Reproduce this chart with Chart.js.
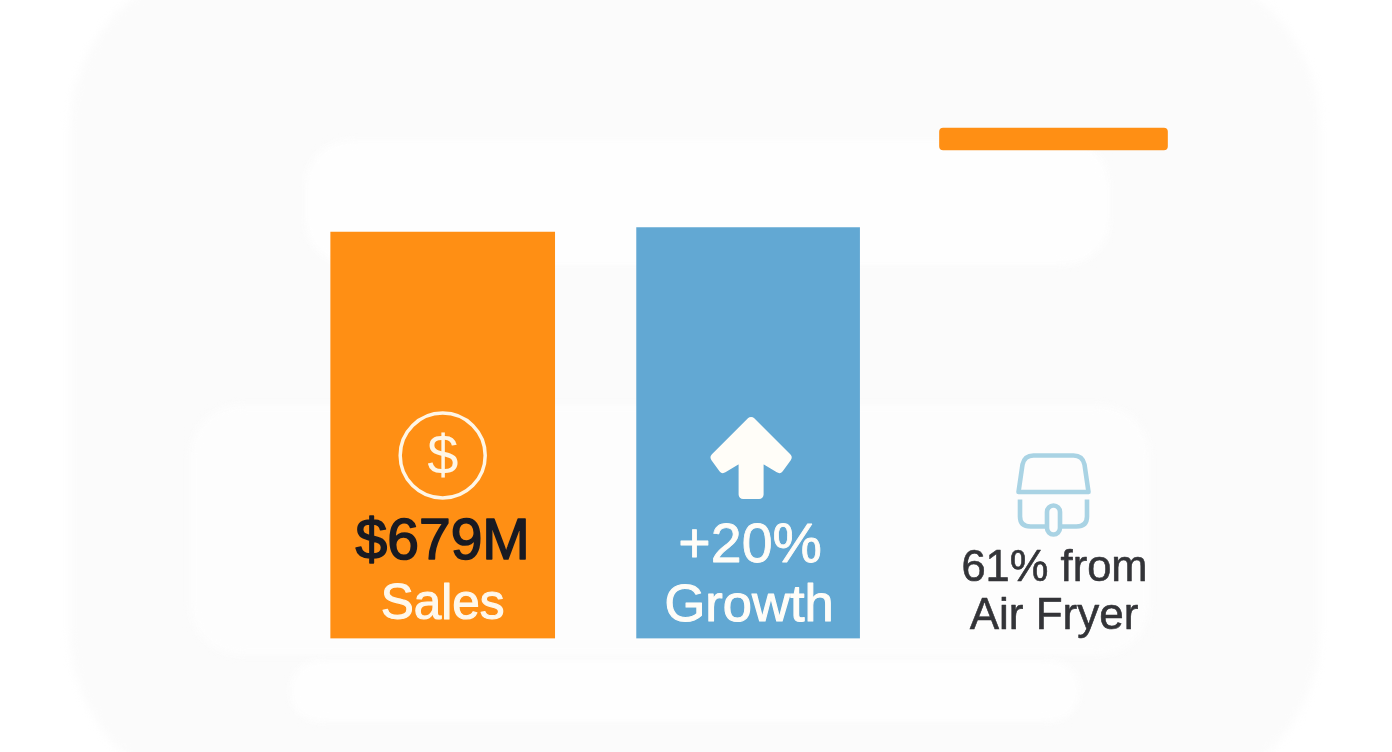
<!DOCTYPE html>
<html>
<head>
<meta charset="utf-8">
<title>Air fryer sales</title>
<script src="https://cdn.jsdelivr.net/npm/chart.js@4"></script>
<style>
  html, body { margin: 0; padding: 0; width: 1392px; height: 752px; overflow: hidden; background: #ffffff; }
  #wrap { position: relative; width: 1392px; height: 752px; overflow: hidden; }
  .blob { position: absolute; filter: blur(5px); }
  canvas { position: absolute; left: 0; top: 0; }
</style>
</head>
<body>
<div id="wrap">
  <div class="blob" style="left:70px;top:-40px;width:1250px;height:840px;background:#fbfbfb;border-radius:170px;"></div>
  <div class="blob" style="left:305px;top:140px;width:805px;height:125px;background:#fefefe;border-radius:45px;"></div>
  <div class="blob" style="left:190px;top:405px;width:960px;height:250px;background:#fdfdfd;border-radius:50px;"></div>
  <div class="blob" style="left:290px;top:660px;width:790px;height:62px;background:#fefefe;border-radius:30px;"></div>
  <canvas id="c" width="1392" height="752"></canvas>
</div>
<script>
const categories = ["Sales", "Growth", "Air Fryer"];
const salesBar = [100, null, null];
const growthBar = [null, 101.1, null];
const airFryerBar = [null, null, [120.2, 125.6]];
const headlineLabels = ["$679M", "+20%", "61% from"];
const subLabels = ["Sales", "Growth", "Air Fryer"];

const ORANGE = "#FF8F14", BLUE = "#62A8D3";

function label(ctx, text, x, y, size, color, weight) {
  ctx.font = size + 'px "Liberation Sans"';
  ctx.textAlign = "center";
  ctx.textBaseline = "alphabetic";
  ctx.fillStyle = color;
  ctx.fillText(text, x, y);
  if (weight) {
    ctx.strokeStyle = color;
    ctx.lineWidth = weight;
    ctx.lineJoin = "round";
    ctx.strokeText(text, x, y);
  }
}

const overlay = {
  id: "overlay",
  afterDatasetsDraw(chart) {
    const ctx = chart.ctx;
    const xs = chart.scales.x;
    const base = chart.scales.y.getPixelForValue(0);
    const cx = categories.map((_, i) => xs.getPixelForValue(i));
    ctx.save();

    // Sales
    ctx.strokeStyle = "#FFF6E6";
    ctx.lineWidth = 3.5;
    ctx.beginPath();
    ctx.arc(cx[0], base - 183, 42.5, 0, Math.PI * 2);
    ctx.stroke();
    label(ctx, "$", cx[0], base - 165, 56, "#FFF6E6", 0);
    label(ctx, headlineLabels[0], cx[0], base - 79.5, 57, "#191A22", 1.6);
    label(ctx, subLabels[0], cx[0], base - 19.5, 49.5, "#FFF8EC", 1.1);

    // Growth
    const g = cx[1] + 3;
    ctx.fillStyle = "#FFFDF8";
    ctx.strokeStyle = "#FFFDF8";
    ctx.lineWidth = 9;
    ctx.lineJoin = "round";
    ctx.beginPath();
    ctx.moveTo(g, base - 217);
    ctx.lineTo(g + 36, base - 181);
    ctx.lineTo(g + 28, base - 170);
    ctx.lineTo(g + 8, base - 182);
    ctx.lineTo(g + 8, base - 144);
    ctx.lineTo(g - 8, base - 144);
    ctx.lineTo(g - 8, base - 182);
    ctx.lineTo(g - 28, base - 170);
    ctx.lineTo(g - 36, base - 181);
    ctx.closePath();
    ctx.fill();
    ctx.stroke();
    label(ctx, headlineLabels[1], cx[1] + 2, base - 77, 55.5, "#FFFDF8", 0.8);
    label(ctx, subLabels[1], cx[1] + 1, base - 18, 52.5, "#FFFDF8", 1.1);

    // Air fryer
    const a = cx[2];
    ctx.strokeStyle = "#A9D3E4";
    ctx.lineWidth = 4.6;
    ctx.lineJoin = "round";
    ctx.lineCap = "butt";
    ctx.beginPath();
    ctx.moveTo(a - 35, base - 146.5);
    ctx.lineTo(a - 31, base - 174);
    ctx.quadraticCurveTo(a - 29, base - 183, a - 20, base - 183);
    ctx.lineTo(a + 20, base - 183);
    ctx.quadraticCurveTo(a + 29, base - 183, a + 31, base - 174);
    ctx.lineTo(a + 35, base - 146.5);
    ctx.closePath();
    ctx.stroke();
    ctx.beginPath();
    ctx.moveTo(a - 33.5, base - 139);
    ctx.lineTo(a - 33.5, base - 122);
    ctx.quadraticCurveTo(a - 33.5, base - 112, a - 23, base - 112);
    ctx.lineTo(a - 8, base - 112);
    ctx.moveTo(a + 8, base - 112);
    ctx.lineTo(a + 23, base - 112);
    ctx.quadraticCurveTo(a + 33.5, base - 112, a + 33.5, base - 122);
    ctx.lineTo(a + 33.5, base - 139);
    ctx.stroke();
    ctx.beginPath();
    ctx.roundRect(a - 6.5, base - 133, 13, 29, 6.5);
    ctx.stroke();
    label(ctx, headlineLabels[2], a + 1, base - 58, 43.5, "#333438", 0.6);
    label(ctx, subLabels[2], a + 0.5, base - 10, 44, "#333438", 0.6);

    ctx.restore();
  }
};

new Chart(document.getElementById("c"), {
  type: "bar",
  data: {
    labels: categories,
    datasets: [
      { label: "Sales", data: salesBar, backgroundColor: ORANGE, barThickness: 224 },
      { label: "Growth", data: growthBar, backgroundColor: BLUE, barThickness: 223 },
      { label: "Air Fryer", data: airFryerBar, backgroundColor: ORANGE, barThickness: 228, borderRadius: 4, borderSkipped: false }
    ]
  },
  options: {
    responsive: false,
    animation: false,
    events: [],
    grouped: false,
    layout: { padding: { left: 290, right: 185.8, top: 0, bottom: 113.5 } },
    plugins: { legend: { display: false }, tooltip: { enabled: false }, title: { display: false } },
    scales: {
      x: { display: false, offset: true, grid: { display: false } },
      y: { display: false, min: 0, max: 157.08, grid: { display: false } }
    }
  },
  plugins: [overlay]
});
</script>
</body>
</html>
